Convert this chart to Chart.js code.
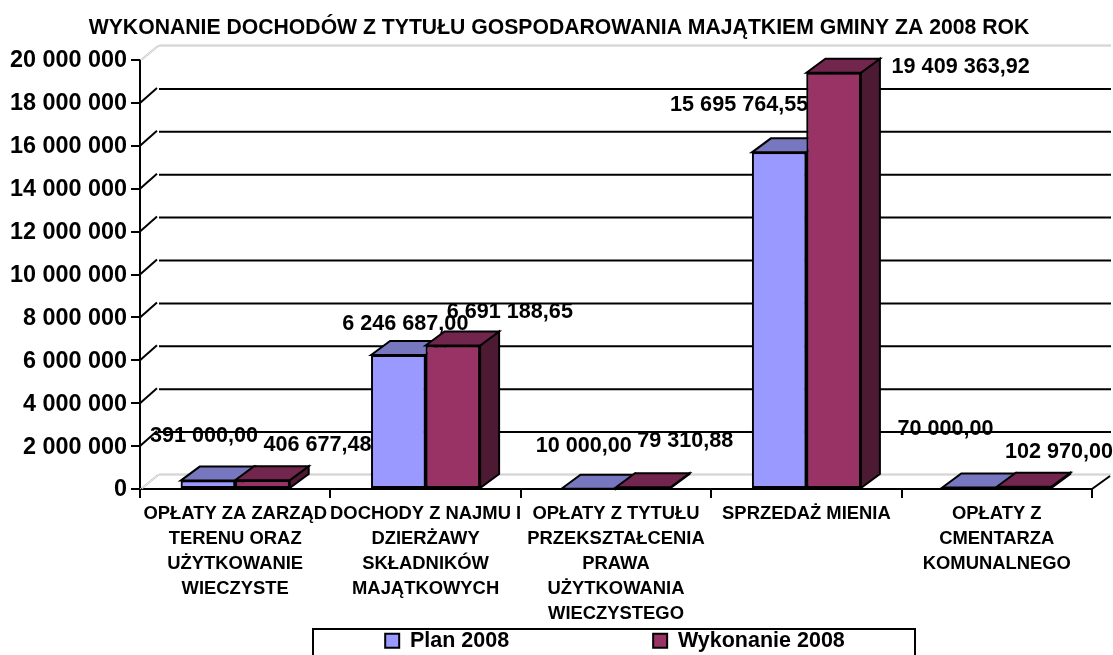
<!DOCTYPE html>
<html>
<head>
<meta charset="utf-8">
<script src="https://cdn.jsdelivr.net/npm/chart.js@4"></script>
<style>
  html, body { margin: 0; padding: 0; background: #fff; overflow: hidden; }
  canvas { display: block; }
</style>
</head>
<body>
<canvas id="chart" width="1113" height="655"></canvas>
<script>
const chartTitle = 'WYKONANIE DOCHODÓW Z TYTUŁU GOSPODAROWANIA MAJĄTKIEM GMINY ZA 2008 ROK';
const categories = [
  ['OPŁATY ZA ZARZĄD', 'TERENU ORAZ', 'UŻYTKOWANIE', 'WIECZYSTE'],
  ['DOCHODY Z NAJMU I', 'DZIERŻAWY', 'SKŁADNIKÓW', 'MAJĄTKOWYCH'],
  ['OPŁATY Z TYTUŁU', 'PRZEKSZTAŁCENIA', 'PRAWA', 'UŻYTKOWANIA', 'WIECZYSTEGO'],
  ['SPRZEDAŻ MIENIA'],
  ['OPŁATY Z', 'CMENTARZA', 'KOMUNALNEGO']
];
const planValues = [391000, 6246687, 10000, 15695764.55, 70000];
const actualValues = [406677.48, 6691188.65, 79310.88, 19409363.92, 102970];

// hand placed data labels, pixels away from the top centre of each bar
const planLabelShift = [[-4, -45], [7, -31], [-5, -43], [-40, -47], [-24, -58]];
const actualLabelShift = [[55, -35], [57, -33], [42, -46], [127, -6], [35, -35]];

const FONT = '"Liberation Sans", Arial, sans-serif';
const DEPTH_X = 19;
const DEPTH_Y = 14;

function spaced(intPart) {
  return String(intPart).replace(/\B(?=(\d{3})+(?!\d))/g, ' ');
}
function formatValue(v) {
  const parts = v.toFixed(2).split('.');
  return spaced(parts[0]) + ',' + parts[1];
}

function line(ctx, x1, y1, x2, y2) {
  ctx.beginPath();
  ctx.moveTo(x1, y1);
  ctx.lineTo(x2, y2);
  ctx.stroke();
}

function face(ctx, pts, fill) {
  ctx.beginPath();
  pts.forEach((p, i) => i ? ctx.lineTo(p[0], p[1]) : ctx.moveTo(p[0], p[1]));
  ctx.closePath();
  ctx.fillStyle = fill;
  ctx.fill();
  ctx.stroke();
}

// back wall, floor and the slanted grid lines
const wallPlugin = {
  id: 'wall',
  beforeDatasetsDraw(chart) {
    const { ctx, chartArea, scales } = chart;
    const { left, right } = chartArea;
    ctx.save();
    scales.y.ticks.forEach((tick, i) => {
      const y = scales.y.getPixelForValue(tick.value);
      const edge = i === 0 || i === scales.y.ticks.length - 1;
      if (edge) {
        ctx.strokeStyle = '#c8c8c8';
        ctx.lineWidth = 1;
        [0, 2].forEach(d => {
          line(ctx, left + d, y, left + DEPTH_X + d - 2, y - DEPTH_Y);
          line(ctx, left + DEPTH_X + d - 2, y - DEPTH_Y - d / 2, right + DEPTH_X, y - DEPTH_Y - d / 2);
        });
      } else {
        ctx.strokeStyle = '#000';
        ctx.lineWidth = 2;
        line(ctx, left, y, left + DEPTH_X - 2, y - DEPTH_Y - 1);
        line(ctx, left + DEPTH_X, y - DEPTH_Y, right + DEPTH_X, y - DEPTH_Y);
      }
    });
    ctx.strokeStyle = '#000';
    ctx.lineWidth = 2;
    line(ctx, right, chartArea.bottom, right + DEPTH_X - 1, chartArea.bottom - DEPTH_Y + 1);
    ctx.restore();
  }
};

// painter's order, left series first: top and side faces, then the front again
const depthPlugin = {
  id: 'depth',
  afterDatasetsDraw(chart) {
    const { ctx } = chart;
    ctx.save();
    ctx.strokeStyle = '#000';
    ctx.lineWidth = 2;
    ctx.lineJoin = 'miter';
    chart.data.datasets.forEach((ds, d) => {
      chart.getDatasetMeta(d).data.forEach(bar => {
        const { x, y, base, width } = bar.getProps(['x', 'y', 'base', 'width'], true);
        const l = x - width / 2;
        const r = x + width / 2;
        face(ctx, [[r, y], [r + DEPTH_X, y - DEPTH_Y], [r + DEPTH_X, base - DEPTH_Y], [r, base]], ds.sideColor);
        face(ctx, [[l, y], [l + DEPTH_X, y - DEPTH_Y], [r + DEPTH_X, y - DEPTH_Y], [r, y]], ds.topColor);
        bar.draw(ctx);
      });
    });
    ctx.restore();
  }
};

const valueLabelPlugin = {
  id: 'valueLabels',
  afterDatasetsDraw(chart) {
    const { ctx } = chart;
    ctx.save();
    ctx.font = 'bold 21.6px ' + FONT;
    ctx.fillStyle = '#000';
    ctx.textAlign = 'center';
    ctx.textBaseline = 'middle';
    chart.data.datasets.forEach((ds, d) => {
      chart.getDatasetMeta(d).data.forEach((bar, i) => {
        const shift = ds.labelShift[i];
        ctx.fillText(formatValue(ds.data[i]), bar.x + shift[0], bar.y + shift[1]);
      });
    });
    ctx.restore();
  }
};

// legend keeps its wide item spacing without taking that room from the plot
const legendPlugin = {
  id: 'legendFrame',
  afterLayout(chart) {
    const legend = chart.legend;
    const gap = legend.options.labels.padding;
    legend.left = 138;
    legend.top = 643 - 13 - gap;
    legend.bottom = chart.height;
    chart.titleBlock.left = 26;
  },
  afterDraw(chart) {
    const { ctx } = chart;
    ctx.save();
    ctx.strokeStyle = '#000';
    ctx.lineWidth = 2;
    ctx.strokeRect(313, 629, 602, 30);
    ctx.restore();
  }
};

new Chart(document.getElementById('chart'), {
  type: 'bar',
  data: {
    labels: categories,
    datasets: [
      {
        label: 'Plan 2008',
        data: planValues,
        labelShift: planLabelShift,
        backgroundColor: '#9999ff',
        topColor: '#7777bf',
        sideColor: '#4d4d80',
        borderColor: '#000',
        borderWidth: 2,
        borderSkipped: false
      },
      {
        label: 'Wykonanie 2008',
        data: actualValues,
        labelShift: actualLabelShift,
        backgroundColor: '#993366',
        topColor: '#73264d',
        sideColor: '#4d1a33',
        borderColor: '#000',
        borderWidth: 2,
        borderSkipped: false
      }
    ]
  },
  options: {
    responsive: false,
    animation: false,
    layout: { padding: { left: 0, right: 21, top: 0, bottom: 0 } },
    datasets: { bar: { categoryPercentage: 0.5725, barPercentage: 1 } },
    plugins: {
      tooltip: { enabled: false },
      title: {
        display: true,
        text: chartTitle,
        color: '#000',
        font: { family: FONT, size: 21.2, weight: 'bold', lineHeight: 1.2 },
        padding: { top: 15, bottom: 19.6 }
      },
      legend: {
        display: true,
        position: 'bottom',
        maxHeight: 27,
        labels: {
          color: '#000',
          font: { family: FONT, size: 21.5, weight: 'bold', lineHeight: 1.2 },
          boxWidth: 14,
          boxHeight: 14,
          padding: 144
        }
      }
    },
    scales: {
      x: {
        afterFit(scale) { scale.height = 139; },
        border: { color: '#000', width: 2 },
        grid: { color: '#000', lineWidth: 2, drawOnChartArea: false, tickLength: 9, tickColor: '#000', offset: true },
        ticks: {
          color: '#000',
          maxRotation: 0,
          minRotation: 0,
          autoSkip: false,
          padding: 4,
          font: { family: FONT, size: 18.4, weight: 'bold', lineHeight: 1.35 }
        }
      },
      y: {
        min: 0,
        max: 20000000,
        afterFit(scale) { scale.width = 140; },
        border: { color: '#000', width: 2 },
        grid: { color: '#000', lineWidth: 2, drawOnChartArea: false, tickLength: 9, tickColor: '#000' },
        ticks: {
          stepSize: 2000000,
          color: '#000',
          padding: 4,
          labelOffset: 1,
          font: { family: FONT, size: 23.4, weight: 'bold' },
          callback: value => spaced(value)
        }
      }
    }
  },
  plugins: [wallPlugin, depthPlugin, valueLabelPlugin, legendPlugin]
});
</script>
</body>
</html>
